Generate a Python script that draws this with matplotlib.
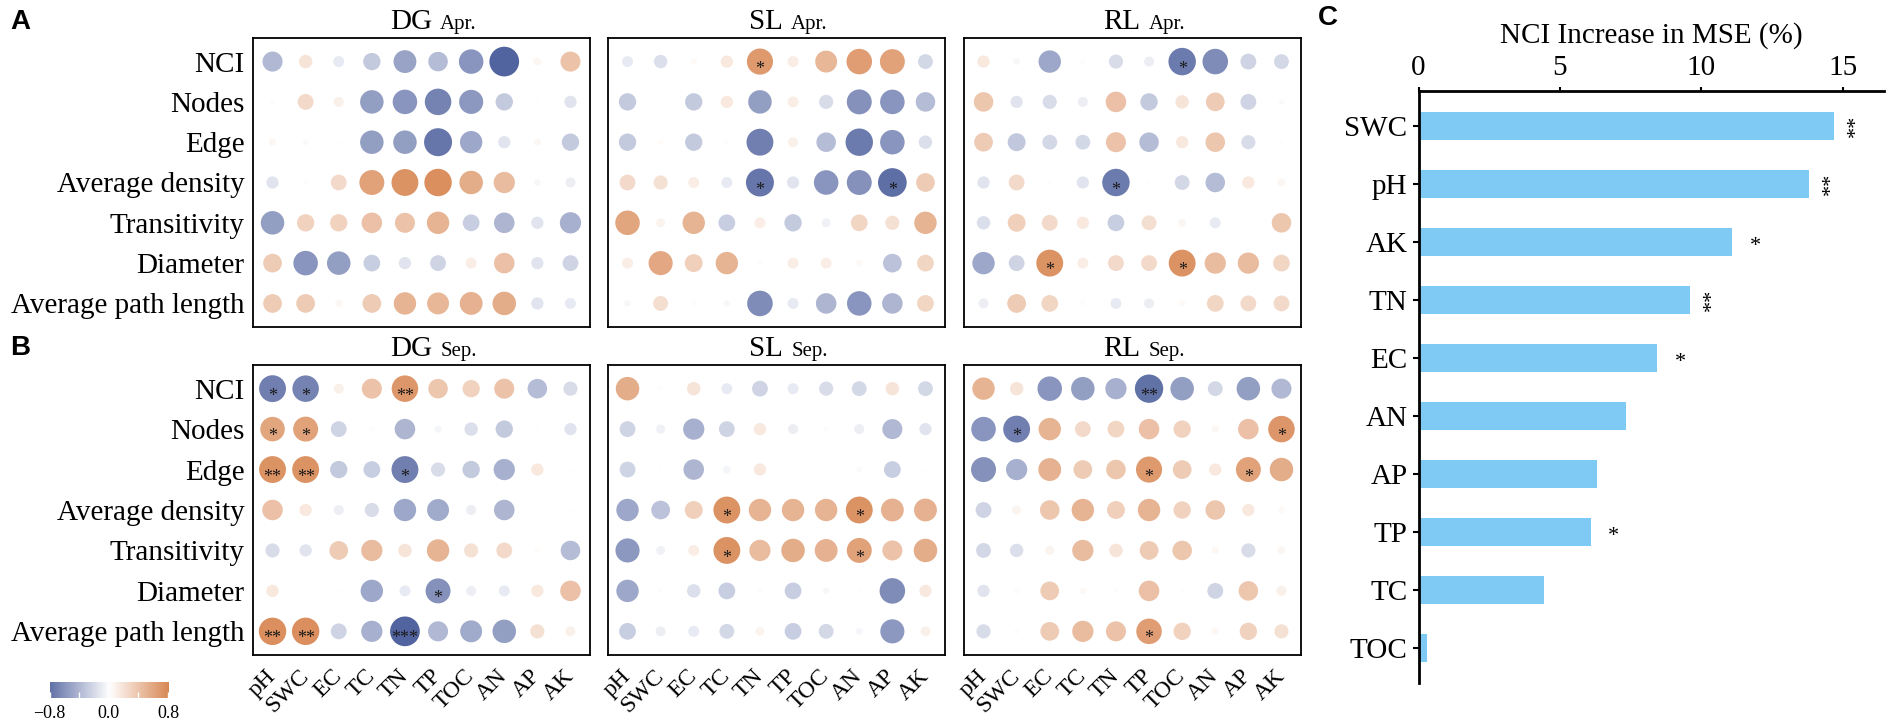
import numpy as np
import matplotlib
matplotlib.use('Agg')
import matplotlib.pyplot as plt
from matplotlib.colors import LinearSegmentedColormap, Normalize
from matplotlib.offsetbox import TextArea, HPacker, AnchoredOffsetbox

plt.rcParams['font.family'] = ['Liberation Serif', 'DejaVu Serif']

## soil properties (columns) and network metrics (rows)
soil = ['pH', 'SWC', 'EC', 'TC', 'TN', 'TP', 'TOC', 'AN', 'AP', 'AK']
metrics = ['NCI', 'Nodes', 'Edge', 'Average density', 'Transitivity',
           'Diameter', 'Average path length']

## correlation coefficients
dg_apr = [
    [-0.40, 0.18, -0.12, -0.30, -0.52, -0.38, -0.60, -0.88, 0.06, 0.40],
    [-0.02, 0.25, 0.10, -0.55, -0.60, -0.70, -0.58, -0.30, 0.01, -0.15],
    [0.05, -0.03, 0.01, -0.55, -0.55, -0.78, -0.50, -0.15, 0.05, -0.30],
    [-0.15, -0.02, 0.25, 0.62, 0.72, 0.75, 0.55, 0.45, -0.04, -0.10],
    [-0.55, 0.30, 0.30, 0.42, 0.40, 0.50, -0.28, -0.42, -0.15, -0.45],
    [0.35, -0.60, -0.55, -0.28, -0.15, -0.25, 0.12, 0.42, -0.15, -0.25],
    [0.35, 0.35, 0.05, 0.35, 0.50, 0.48, 0.52, 0.55, -0.15, -0.12],
]
sl_apr = [
    [-0.12, -0.18, 0.04, 0.15, 0.68, 0.12, 0.48, 0.65, 0.62, -0.22],
    [-0.30, 0.00, -0.30, 0.15, -0.55, 0.12, -0.20, -0.62, -0.60, -0.38],
    [-0.30, 0.03, -0.30, 0.02, -0.72, 0.10, -0.38, -0.75, -0.60, -0.18],
    [0.25, 0.20, 0.12, -0.12, -0.78, -0.15, -0.60, -0.62, -0.82, 0.35],
    [0.60, 0.08, 0.50, -0.28, 0.12, -0.30, -0.08, 0.28, 0.20, 0.50],
    [0.12, 0.58, 0.32, 0.50, 0.02, 0.12, 0.12, 0.04, -0.35, 0.28],
    [-0.04, 0.22, -0.02, -0.04, -0.65, -0.12, -0.42, -0.60, -0.42, 0.28],
]
rl_apr = [
    [0.15, -0.04, -0.50, -0.02, -0.20, -0.10, -0.75, -0.65, -0.25, -0.22],
    [0.38, -0.15, -0.20, -0.10, 0.42, -0.30, 0.18, 0.35, -0.25, -0.03],
    [0.35, -0.32, -0.22, -0.22, 0.40, -0.38, 0.15, 0.38, -0.20, 0.01],
    [-0.15, 0.25, 0.01, -0.15, -0.75, -0.01, -0.22, -0.38, 0.15, 0.06],
    [-0.18, 0.32, 0.25, 0.15, -0.28, 0.22, 0.06, -0.12, 0.01, 0.38],
    [-0.50, -0.25, 0.72, 0.12, 0.25, 0.25, 0.72, 0.45, 0.45, 0.28],
    [-0.10, 0.35, 0.28, 0.02, -0.12, -0.10, 0.04, 0.28, 0.25, 0.25],
]
dg_sep = [
    [-0.72, -0.70, 0.10, 0.40, 0.70, 0.38, 0.30, 0.40, -0.38, -0.20],
    [0.60, 0.62, -0.25, -0.02, -0.42, -0.05, -0.18, -0.30, 0.01, -0.15],
    [0.72, 0.72, -0.30, -0.28, -0.72, -0.20, -0.30, -0.45, 0.15, -0.01],
    [0.42, 0.15, -0.10, -0.20, -0.50, -0.48, -0.10, -0.42, 0.00, -0.01],
    [-0.20, -0.15, 0.35, 0.45, 0.18, 0.50, 0.20, 0.25, 0.03, -0.38],
    [0.15, 0.00, -0.01, -0.50, -0.12, -0.62, -0.10, -0.12, 0.15, 0.42],
    [0.75, 0.75, -0.25, -0.45, -0.88, -0.40, -0.48, -0.55, 0.20, 0.10],
]
sl_sep = [
    [0.55, 0.02, 0.18, -0.12, -0.25, -0.12, -0.20, -0.22, 0.18, -0.22],
    [-0.25, -0.08, -0.45, -0.25, 0.15, -0.10, 0.02, -0.10, -0.40, -0.15],
    [-0.25, 0.01, -0.42, -0.06, 0.15, 0.00, 0.01, -0.03, -0.28, 0.01],
    [-0.50, -0.35, 0.32, 0.72, 0.50, 0.50, 0.50, 0.72, 0.52, 0.52],
    [-0.58, -0.08, 0.12, 0.72, 0.45, 0.55, 0.52, 0.62, 0.40, 0.55],
    [-0.50, -0.02, -0.18, -0.28, 0.02, -0.28, -0.04, 0.01, -0.65, 0.15],
    [-0.28, -0.10, -0.12, -0.22, 0.08, -0.28, -0.22, -0.05, -0.58, 0.10],
]
rl_sep = [
    [0.50, 0.18, -0.60, -0.55, -0.45, -0.80, -0.55, -0.22, -0.55, -0.40],
    [-0.60, -0.72, 0.50, 0.25, 0.28, 0.42, 0.30, 0.05, 0.42, 0.70],
    [-0.62, -0.45, 0.52, 0.35, 0.38, 0.68, 0.35, 0.15, 0.62, 0.55],
    [-0.25, 0.08, 0.38, 0.50, 0.32, 0.50, 0.30, 0.38, 0.15, 0.04],
    [-0.22, -0.18, 0.08, 0.45, 0.18, 0.35, 0.38, 0.05, -0.20, 0.06],
    [-0.15, 0.03, 0.35, 0.04, -0.02, 0.42, 0.01, -0.25, 0.38, 0.10],
    [-0.20, 0.02, 0.35, 0.45, 0.40, 0.65, 0.30, 0.05, 0.30, 0.20],
]

## significance marks (row, column, label)
dg_apr_sig = []
sl_apr_sig = [(0, 4, '*'), (3, 4, '*'), (3, 8, '*')]
rl_apr_sig = [(0, 6, '*'), (3, 4, '*'), (5, 2, '*'), (5, 6, '*')]
dg_sep_sig = [(0, 0, '*'), (0, 1, '*'), (0, 4, '**'), (1, 0, '*'), (1, 1, '*'),
              (2, 0, '**'), (2, 1, '**'), (2, 4, '*'), (5, 5, '*'),
              (6, 0, '**'), (6, 1, '**'), (6, 4, '***')]
sl_sep_sig = [(3, 3, '*'), (3, 7, '*'), (4, 3, '*'), (4, 7, '*')]
rl_sep_sig = [(0, 5, '**'), (1, 1, '*'), (1, 9, '*'), (2, 5, '*'), (2, 8, '*'), (6, 5, '*')]

## random forest importance
bar_vars = ['SWC', 'pH', 'AK', 'TN', 'EC', 'AN', 'AP', 'TP', 'TC', 'TOC']
bar_vals = [14.7, 13.8, 11.1, 9.6, 8.45, 7.35, 6.3, 6.1, 4.45, 0.3]
bar_sig = ['**', '**', '*', '**', '*', '', '', '*', '', '']


W, H = 1902, 728
fig = plt.figure(figsize=(W / 100, H / 100), dpi=100)


def px_axes(x0, y0, x1, y1):
    return fig.add_axes([x0 / W, 1 - y1 / H, (x1 - x0) / W, (y1 - y0) / H])


cmap = LinearSegmentedColormap.from_list('bw_or', ['#3b4f92', '#ffffff', '#cf6a2a'])
norm = Normalize(-1, 1)


def dot_panel(ax, vals, sig, site, month, left, bottom):
    v = np.array(vals)
    rr, cc = np.meshgrid(np.arange(v.shape[0]), np.arange(v.shape[1]), indexing='ij')
    ax.scatter(cc.ravel(), rr.ravel(), s=520 * np.abs(v).ravel(), c=v.ravel(),
               cmap=cmap, norm=norm, linewidths=0)
    for r, c, lab in sig:
        ax.text(c, r + 0.3, lab, ha='center', va='baseline', fontsize=13, color='#1a1a1a')
    ax.set_xlim(-0.59, 9.59)
    ax.set_ylim(6.585, -0.585)
    ax.tick_params(length=0)
    if left:
        ax.set_yticks(range(len(metrics)))
        ax.set_yticklabels(metrics, fontsize=21)
        ax.tick_params(axis='y', pad=6)
    else:
        ax.set_yticks([])
    if bottom:
        ax.set_xticks(range(len(soil)))
        ax.set_xticklabels(soil, fontsize=17, rotation=45, ha='right', va='center',
                           rotation_mode='anchor')
        ax.tick_params(axis='x', pad=13)
    else:
        ax.set_xticks([])
    for s in ax.spines.values():
        s.set_linewidth(1.3)
    # title like "DG Apr." with a smaller month
    box = HPacker(children=[TextArea(site, textprops=dict(fontsize=21)),
                            TextArea(month, textprops=dict(fontsize=15))],
                  align='baseline', pad=0, sep=6)
    ab = AnchoredOffsetbox(loc='lower center', child=box, pad=0, borderpad=0.2,
                           frameon=False, bbox_to_anchor=(0.535, 1.0),
                           bbox_transform=ax.transAxes)
    ax.add_artist(ab)


cols_px = [(253, 590), (608, 945), (964, 1301)]
rows_px = [(38, 327), (365, 655)]

panels = [
    [(dg_apr, dg_apr_sig, 'DG'), (sl_apr, sl_apr_sig, 'SL'), (rl_apr, rl_apr_sig, 'RL')],
    [(dg_sep, dg_sep_sig, 'DG'), (sl_sep, sl_sep_sig, 'SL'), (rl_sep, rl_sep_sig, 'RL')],
]
months = ['Apr.', 'Sep.']

for i, (y0, y1) in enumerate(rows_px):
    for j, (x0, x1) in enumerate(cols_px):
        vals, sig, site = panels[i][j]
        ax = px_axes(x0, y0, x1, y1)
        dot_panel(ax, vals, sig, site, months[i], j == 0, i == 1)

## colour bar
cax = px_axes(49.5, 682, 168, 698)
grad = np.linspace(-0.8, 0.8, 256)[None, :]
cax.imshow(grad, cmap=cmap, norm=norm, aspect='auto', extent=[-0.8, 0.8, 0, 1])
cax.set_yticks([])
cax.set_xticks([-0.8, -0.4, 0, 0.4, 0.8])
cax.set_xticklabels(['\u22120.8', '', '0.0', '', '0.8'], fontsize=13)
cax.tick_params(axis='x', direction='in', color='white', length=4, width=1, pad=5)
for s in cax.spines.values():
    s.set_visible(False)

## bar chart C
axb = px_axes(1418.6, 91, 1883.6, 683)
yy = np.arange(len(bar_vars))
axb.barh(yy, bar_vals, height=0.49, color='#7ecaf5')
for y, v, lab in zip(yy, bar_vals, bar_sig):
    if lab == '**':
        axb.text(v + 0.8, y, lab, rotation=90, ha='center', va='center', fontsize=16)
    elif lab:
        axb.text(v + 0.8, y + 0.08, lab, ha='center', va='center', fontsize=16)
axb.set_ylim(9.6, -0.6)
axb.set_xlim(0, 16.45)
axb.set_yticks(yy)
axb.set_yticklabels(bar_vars, fontsize=21)
axb.xaxis.tick_top()
axb.xaxis.set_label_position('top')
axb.set_xticks([0, 5, 10, 15])
axb.tick_params(axis='x', labelsize=21, length=3, width=1.5, pad=4)
axb.tick_params(axis='y', length=4, width=1.5, pad=4)
axb.set_xlabel('NCI Increase in MSE (%)', fontsize=21, labelpad=9)
axb.spines['right'].set_visible(False)
axb.spines['bottom'].set_visible(False)
axb.spines['top'].set_linewidth(2)
axb.spines['left'].set_linewidth(2)

## panel letters
for lab, x, y in [('A', 10, 22), ('B', 10, 348), ('C', 1318, 18)]:
    fig.text(x / W, 1 - y / H, lab, fontsize=20, fontweight='bold',
             family='Liberation Sans', va='center', ha='left')

fig.savefig('out.png', dpi=100)
